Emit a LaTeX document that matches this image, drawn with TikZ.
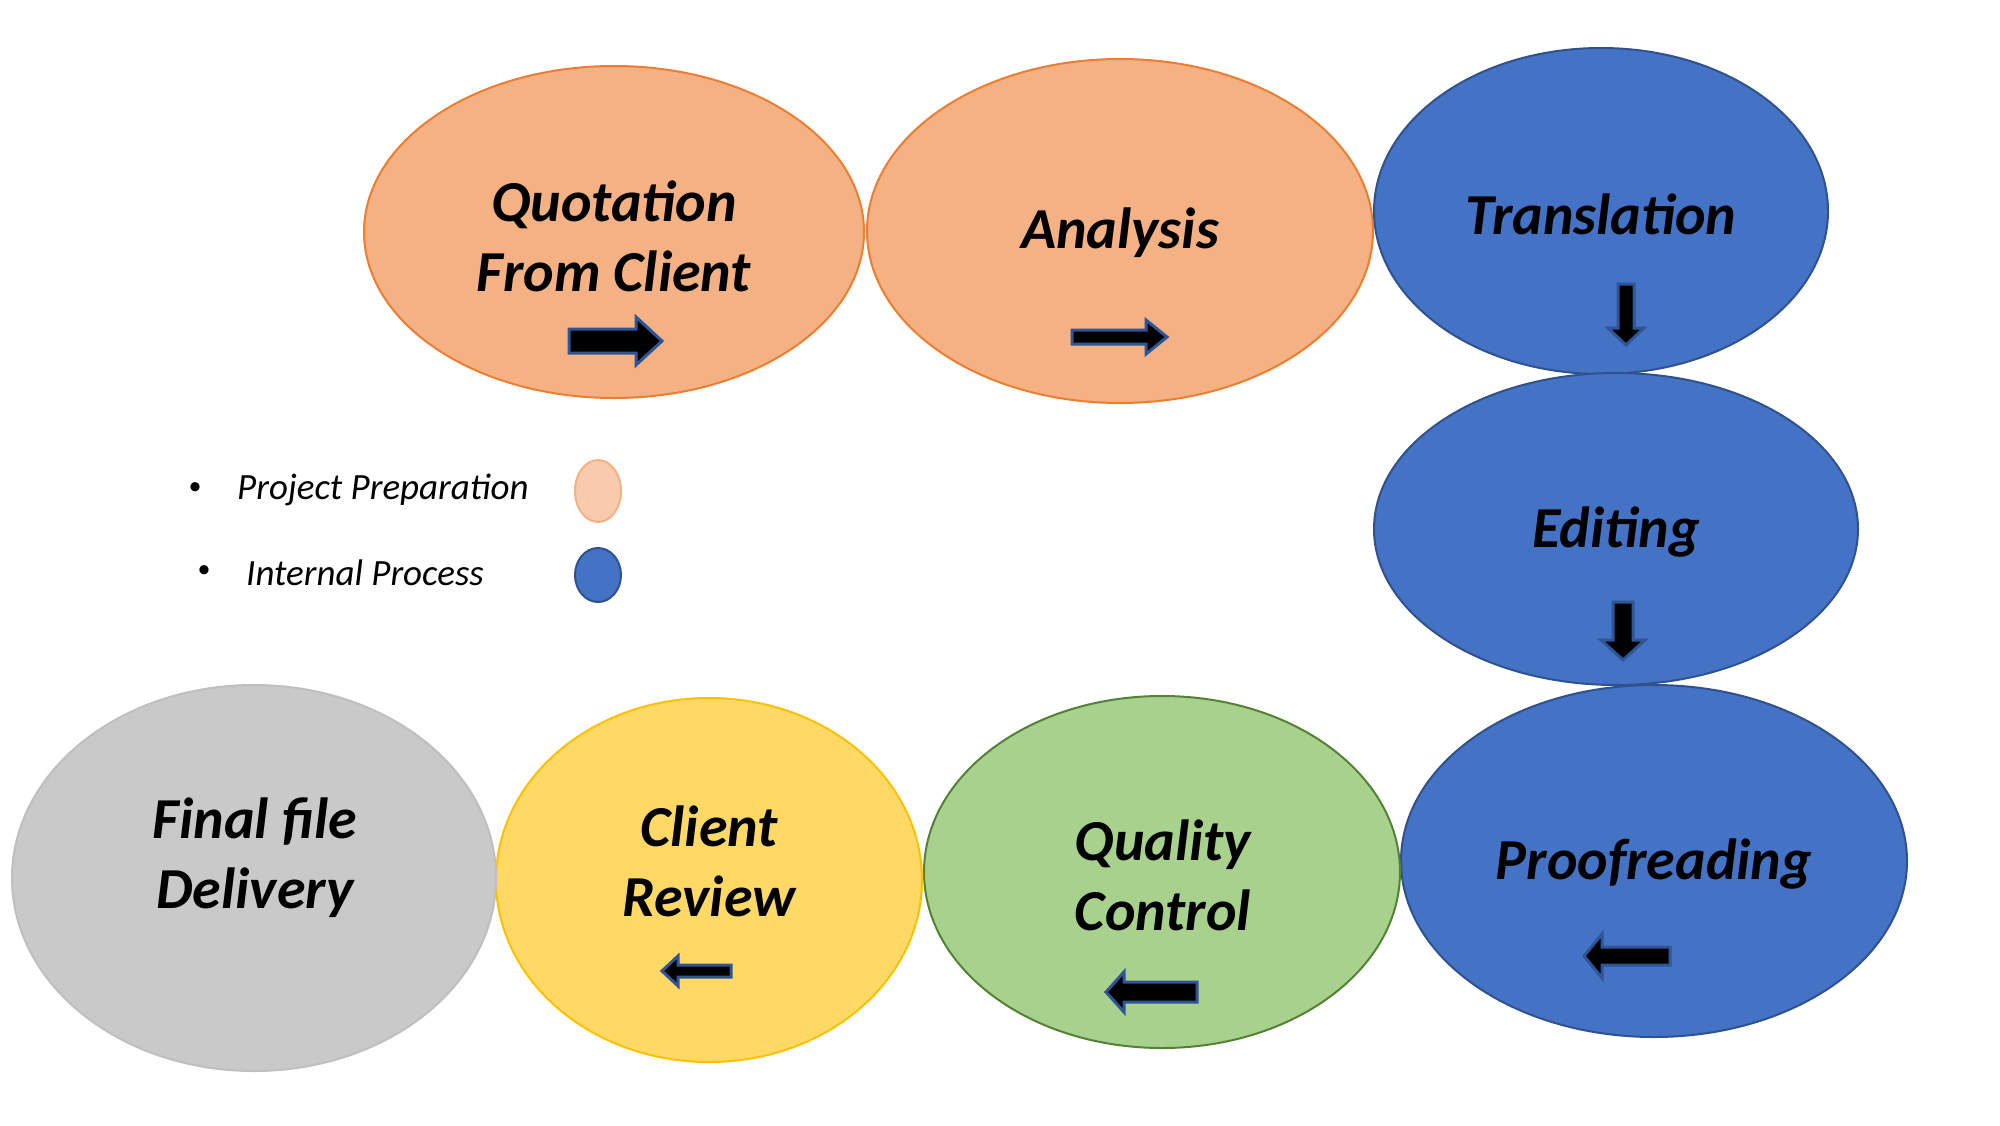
\documentclass[tikz,border=0pt]{standalone}
\usepackage{fontspec}
\setmainfont{Carlito}
\usetikzlibrary{shapes.geometric}
\definecolor{peach}{HTML}{F4B183}
\definecolor{peachline}{HTML}{ED7D31}
\definecolor{bluef}{HTML}{4472C4}
\definecolor{blueline}{HTML}{2F528F}
\definecolor{greenf}{HTML}{A9D18E}
\definecolor{greenline}{HTML}{548235}
\definecolor{yellowf}{HTML}{FFD966}
\definecolor{yellowline}{HTML}{FFC000}
\definecolor{greyf}{HTML}{C9C9C9}
\definecolor{greyline}{HTML}{BFBFBF}
\definecolor{lpeach}{HTML}{F8CBAD}
\definecolor{arrowline}{HTML}{2F5597}
\tikzset{
  stage/.style={ellipse, inner sep=0pt, line width=2pt},
  prep/.style={stage, fill=peach, draw=peachline},
  internal/.style={stage, fill=bluef, draw=blueline},
  qc/.style={stage, fill=greenf, draw=greenline},
  review/.style={stage, fill=yellowf, draw=yellowline},
  final/.style={stage, fill=greyf, draw=greyline},
  lbl/.style={font=\fontsize{58}{70}\selectfont\bfseries\itshape, align=center, text=black, inner sep=0pt},
  legtext/.style={font=\fontsize{37}{44}\selectfont\itshape, anchor=west, inner sep=0pt},
  bullet/.style={font=\fontsize{26}{30}\selectfont, inner sep=0pt},
  blk/.style={fill=black, draw=arrowline, line width=3pt, line join=miter}
}
% horizontal arrow: tail x, neck x, tip x, y, shaft half, head half
\newcommand\hArrow[6]{\filldraw[blk] (#1,{#4-#5}) -- (#2,{#4-#5}) -- (#2,{#4-#6}) -- (#3,#4) -- (#2,{#4+#6}) -- (#2,{#4+#5}) -- (#1,{#4+#5}) -- cycle;}
% vertical arrow: tail y, neck y, tip y, x, shaft half, head half
\newcommand\vArrow[6]{\filldraw[blk] ({#4-#5},#1) -- ({#4-#5},#2) -- ({#4-#6},#2) -- (#4,#3) -- ({#4+#6},#2) -- ({#4+#5},#2) -- ({#4+#5},#1) -- cycle;}
\begin{document}
\begin{tikzpicture}[x=1pt,y=-1pt]
\useasboundingbox (0,0) rectangle (2000,1125);
% stages
\node[prep, minimum width=500pt, minimum height=332pt] (quote) at (614,232) {};
\node[prep, minimum width=506pt, minimum height=344pt] (analysis) at (1120,231) {};
\node[internal, minimum width=454pt, minimum height=326pt] (transl) at (1601,211) {};
\node[internal, minimum width=484pt, minimum height=312pt] (edit) at (1616,529) {};
\node[internal, minimum width=506pt, minimum height=352pt] (proof) at (1654,861) {};
\node[qc, minimum width=476pt, minimum height=352pt] (quality) at (1162,872) {};
\node[review, minimum width=426pt, minimum height=364pt] (client) at (709,880) {};
\node[final, minimum width=484pt, minimum height=386pt] (delivery) at (254,878) {};
% arrows
\hArrow{569}{636}{662}{341}{12}{24}
\hArrow{1072}{1146}{1167}{337}{7}{17}
\vArrow{284}{328}{345}{1626}{8}{18}
\vArrow{602}{640}{660}{1623}{10}{22}
\hArrow{1670}{1602}{1584}{956}{9}{22}
\hArrow{1197}{1124}{1106}{992}{10}{20}
\hArrow{731}{678}{662}{971}{6}{15}
% labels
\node[lbl] (tquote) at (614,236) {Quotation\\From Client};
\node[lbl] (tanalysis) at (1120,233) {Analysis};
\node[lbl] (ttransl) at (1601,214) {Translation};
\node[lbl] (tedit) at (1616,532) {Editing};
\node[lbl] (tproof) at (1654,864) {Proofreading};
\node[lbl] (tquality) at (1163,875) {Quality\\Control};
\node[lbl] (tclient) at (709,861) {Client\\Review};
\node[lbl] (tdelivery) at (255,858) {Final file\\Delivery};
% legend
\node[bullet] (b1) at (195,489) {•};
\node[legtext] (l1) at (237,490) {Project Preparation};
\node[bullet] (b2) at (204,572) {•};
\node[legtext] (l2) at (246,573) {Internal Process};
\node[ellipse, inner sep=0pt, minimum width=46pt, minimum height=62pt, fill=lpeach, draw=peach, line width=2pt] (lg1) at (598,491) {};
\node[ellipse, inner sep=0pt, minimum width=46pt, minimum height=54pt, fill=bluef, draw=blueline, line width=2pt] (lg2) at (598,575) {};
\end{tikzpicture}
\end{document}
